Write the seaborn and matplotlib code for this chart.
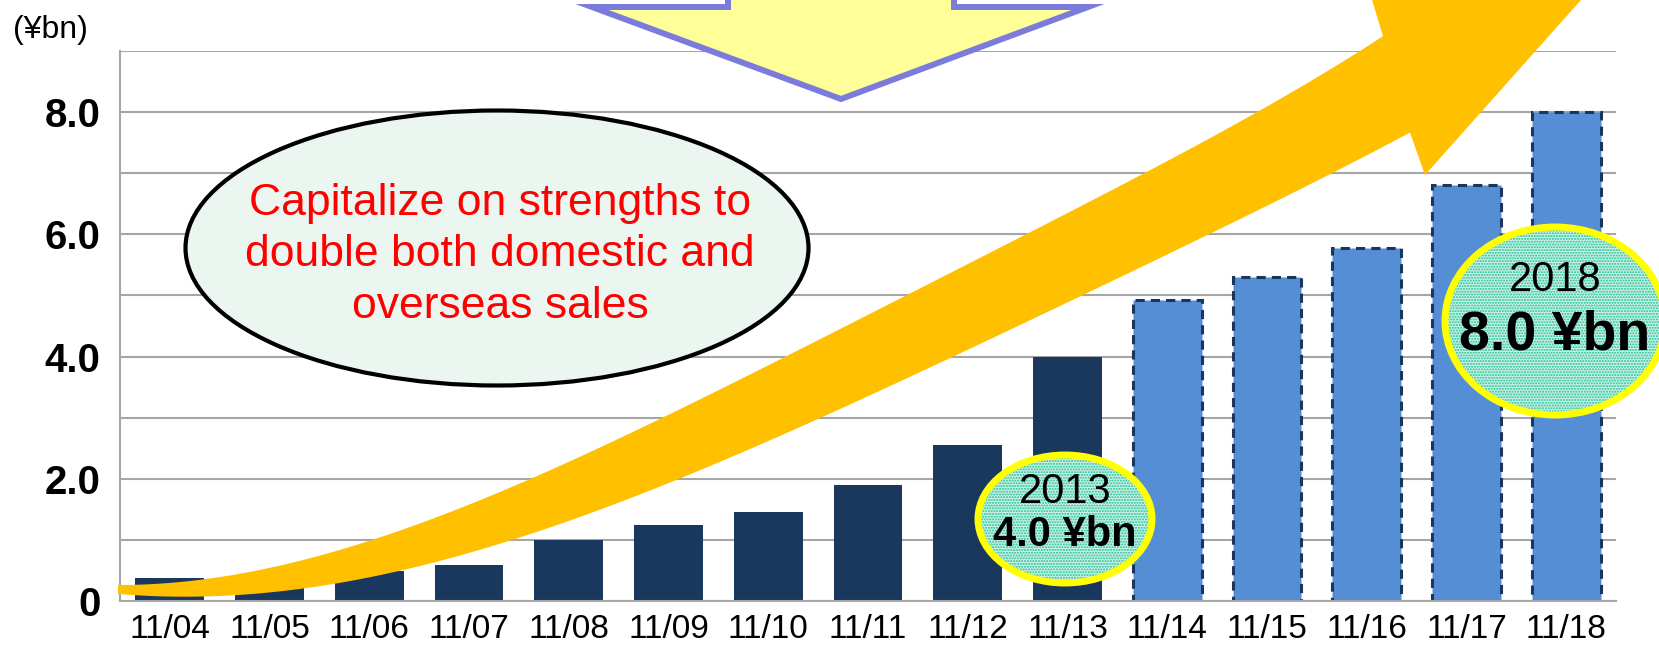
import numpy as np
import pandas as pd
import seaborn as sns
import matplotlib.pyplot as plt
from matplotlib.patches import Ellipse, Polygon

# sales (¥bn) by fiscal year end, 11/14 onward = plan
years = ['11/04', '11/05', '11/06', '11/07', '11/08', '11/09', '11/10', '11/11',
         '11/12', '11/13', '11/14', '11/15', '11/16', '11/17', '11/18']
sales = [0.38, 0.42, 0.49, 0.59, 1.0, 1.24, 1.46, 1.9, 2.56, 4.0,
         4.92, 5.31, 5.78, 6.81, 8.0]
status = ['actual'] * 10 + ['plan'] * 5
y_ticks = [0, 2, 4, 6, 8]
y_tick_labels = ['0', '2.0', '4.0', '6.0', '8.0']
unit_label = '(¥bn)'
message = 'Capitalize on strengths to\ndouble both domestic and\noverseas sales'
callouts = [('2013', '4.0 ¥bn'), ('2018', '8.0 ¥bn')]

df = pd.DataFrame({'year': years, 'sales': sales, 'status': status})

sns.set_theme(style='white')
plt.rcParams['font.family'] = ['Liberation Sans', 'DejaVu Sans']
plt.rcParams['text.color'] = 'black'
plt.rcParams['xtick.color'] = 'black'
plt.rcParams['ytick.color'] = 'black'

W, H = 1659, 647
fig = plt.figure(figsize=(W / 100, H / 100), dpi=100)
ax = fig.add_axes([120 / W, 1 - 601 / H, (1616 - 120) / W, (601 - 51) / H])

sns.barplot(data=df, x='year', y='sales', hue='status',
            palette={'actual': '#1A375E', 'plan': '#558ED5'}, saturation=1,
            dodge=False, width=0.69, legend=False, linewidth=0, ax=ax, zorder=2)
for bar in ax.containers[1]:
    bar.set_edgecolor('#17375E')
    bar.set_linewidth(2.2)
    bar.set_linestyle((0, (3, 2)))

ax.set_xlim(-0.5, len(years) - 0.5)
ax.set_ylim(0, 9)
ax.set_yticks(y_ticks)
ax.set_yticklabels(y_tick_labels, fontsize=29, fontweight='bold')
ax.set_yticks([1, 3, 5, 7, 9], minor=True)
ax.grid(axis='y', which='both', color='#A6A6A6', lw=1.5)
ax.set_axisbelow(True)
ax.tick_params(axis='y', which='both', length=0, pad=14)
ax.tick_params(axis='x', length=0, pad=9, labelsize=24)
ax.set_xlabel('')
ax.set_ylabel('')
for s in ['top', 'right']:
    ax.spines[s].set_visible(False)
for s in ['left', 'bottom']:
    ax.spines[s].set_color('#A6A6A6')
    ax.spines[s].set_linewidth(1.5)

fig.text(13 / W, 1 - 30 / H, unit_label, fontsize=23, va='center', ha='left')

tf = fig.transFigure


def px(pts):
    return [(x / W, 1 - y / H) for x, y in pts]


def edge(xs, ys, x0, x1, deg=5):
    grid = np.linspace(x0, x1, 200)
    return list(zip(grid, np.polyval(np.polyfit(xs, ys, deg), grid)))


# big growth arrow (decoration, figure pixel space)
top_x = [118, 200, 300, 400, 500, 600, 850, 1100, 1250, 1383]
top_y = [586, 578, 560, 533, 492, 447, 322, 200, 113, 37]
bot_x = [118, 167, 207, 233, 303, 333, 403, 500, 600, 850, 1100, 1250, 1410]
bot_y = [594, 596, 597, 596, 588, 583, 569, 546, 510, 402, 290, 212, 133]
outline = (edge(top_x, top_y, 118, 1383)
           + [(1366, -20), (1630, -55), (1425, 175)]
           + edge(bot_x, bot_y, 118, 1410)[::-1])
ax.add_patch(Polygon(px(outline), closed=True, transform=tf, facecolor='#FFC000',
                     edgecolor='none', zorder=4, clip_on=False))

# down arrow at top
down = [(728, -30), (728, 7), (592, 7), (841, 99), (1088, 7), (954, 7), (954, -30)]
ax.add_patch(Polygon(px(down), closed=True, transform=tf, facecolor='#FFFF99',
                     edgecolor='#7B7BDB', lw=4.3, zorder=4, clip_on=False))

# message bubble
ax.add_patch(Ellipse((497 / W, 1 - 248 / H), 623 / W, 275 / H, transform=tf,
                     facecolor='#EBF6F1', edgecolor='black', lw=3, zorder=5, clip_on=False))
fig.text(500 / W, 1 - 255 / H, message, color='#FF0000', fontsize=32,
         ha='center', va='center', linespacing=1.33, zorder=6)

# year callouts
plt.rcParams['hatch.linewidth'] = 1.0
spots = [((1065, 519), (174, 128), 30, 30, 492, 535),
         ((1555, 321), (220, 188), 30, 40, 280, 336)]
for (yr, val), ((cx, cy), (ew, eh), fs1, fs2, y1, y2) in zip(callouts, spots):
    ax.add_patch(Ellipse((cx / W, 1 - cy / H), ew / W, eh / H, transform=tf,
                         facecolor='#CDF2E6', edgecolor='#1DBF95', hatch='......',
                         lw=0, zorder=5, clip_on=False))
    ax.add_patch(Ellipse((cx / W, 1 - cy / H), ew / W, eh / H, transform=tf,
                         facecolor='none', edgecolor='#FFFF00', lw=5, zorder=5, clip_on=False))
    fig.text(cx / W, 1 - y1 / H, yr, fontsize=fs1, ha='center', va='center', zorder=6)
    fig.text(cx / W, 1 - y2 / H, val, fontsize=fs2, fontweight='bold',
             ha='center', va='center', zorder=6)

fig.savefig('out.png', dpi=100)
